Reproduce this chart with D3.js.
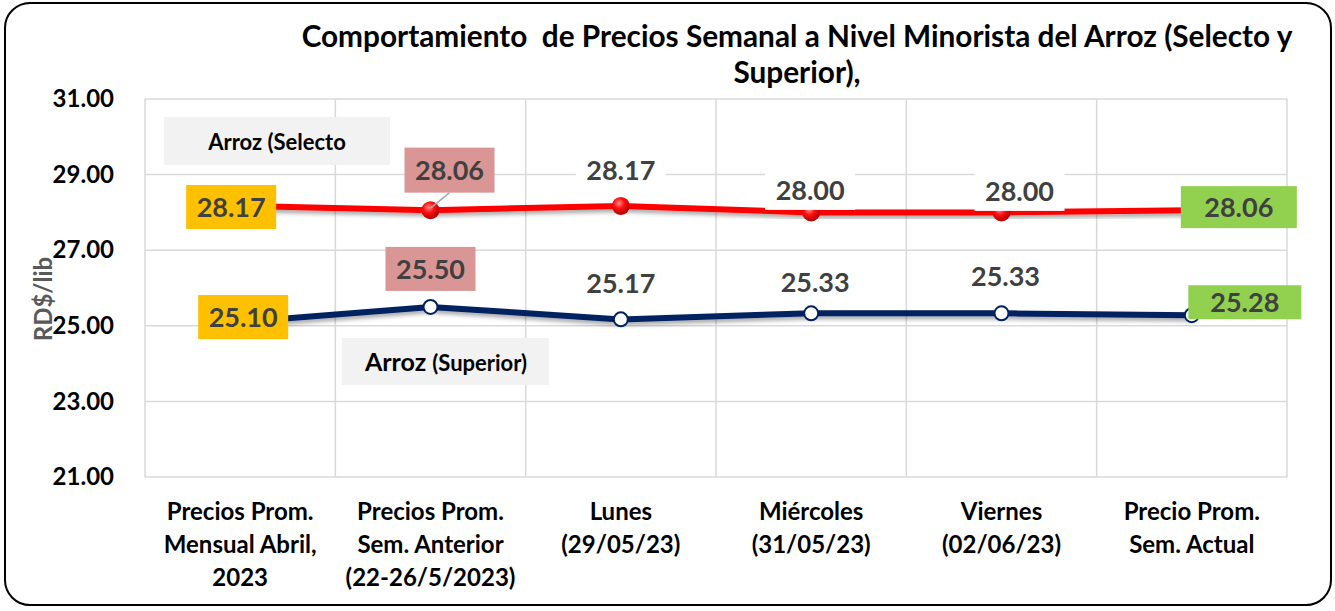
<!DOCTYPE html>
<html>
<head>
<meta charset="utf-8">
<script src="https://cdn.jsdelivr.net/npm/d3@7"></script>
<style>
  body { margin: 0; background: #fff; }
  text { font-family: Lato, "Open Sans", sans-serif; font-weight: 700; }
</style>
</head>
<body>
<div id="chart"></div>
<script>

const categories = [
    ["Precios Prom.", "Mensual Abril,", "2023"],
    ["Precios Prom.", "Sem. Anterior", "(22-26/5/2023)"],
    ["Lunes", "(29/05/23)"],
    ["Miércoles", "(31/05/23)"],
    ["Viernes", "(02/06/23)"],
    ["Precio Prom.", "Sem. Actual"]
];
const selecto = [28.17, 28.06, 28.17, 28.00, 28.00, 28.06];
const superior = [25.10, 25.50, 25.17, 25.33, 25.33, 25.28];
const yTicks = [21, 23, 25, 27, 29, 31];

const width = 1335;
const height = 611;

const svg = d3.select("#chart")
    .append("svg")
    .attr("width", width)
    .attr("height", height);

// drop shadow for lines
const defs = svg.append("defs");
const shadow = defs.append("filter").attr("id", "shadow")
    .attr("x", "-5%").attr("y", "-50%").attr("width", "110%").attr("height", "250%");
shadow.append("feDropShadow")
    .attr("dx", 0).attr("dy", 3).attr("stdDeviation", 2)
    .attr("flood-color", "#000").attr("flood-opacity", 0.35);

const grad = defs.append("radialGradient").attr("id", "redball")
    .attr("cx", "40%").attr("cy", "35%").attr("r", "65%");
grad.append("stop").attr("offset", "0%").attr("stop-color", "#ff8a8a");
grad.append("stop").attr("offset", "45%").attr("stop-color", "#ff1010");
grad.append("stop").attr("offset", "100%").attr("stop-color", "#b00000");

// frame
svg.append("rect")
    .attr("x", 5).attr("y", 3)
    .attr("width", 1326).attr("height", 602)
    .attr("rx", 25)
    .attr("fill", "#fff")
    .attr("stroke", "#000")
    .attr("stroke-width", 2);

const plot = { left: 145, right: 1287, top: 99, bottom: 477 };

const x = d3.scaleBand()
    .domain(d3.range(categories.length))
    .range([plot.left, plot.right]);

const y = d3.scaleLinear()
    .domain([21, 31])
    .range([plot.bottom, plot.top]);

// grid
svg.append("g")
    .selectAll("line.h")
    .data(yTicks)
    .enter()
    .append("line")
    .attr("x1", plot.left).attr("x2", plot.right)
    .attr("y1", d => y(d)).attr("y2", d => y(d))
    .attr("stroke", "#d9d9d9")
    .attr("stroke-width", 1.5);

svg.append("g")
    .selectAll("line.v")
    .data(d3.range(categories.length + 1))
    .enter()
    .append("line")
    .attr("x1", d => plot.left + d * x.bandwidth())
    .attr("x2", d => plot.left + d * x.bandwidth())
    .attr("y1", plot.top).attr("y2", plot.bottom)
    .attr("stroke", "#d9d9d9")
    .attr("stroke-width", 1.5);

// y axis
const yAxis = d3.axisLeft(y)
    .tickValues(yTicks)
    .tickFormat(d3.format(".2f"))
    .tickSize(0)
    .tickPadding(31);

const gy = svg.append("g")
    .attr("transform", "translate(" + plot.left + ",0)")
    .call(yAxis);
gy.select(".domain").remove();
gy.selectAll("text")
    .attr("fill", "#000")
    .style("font-size", "24px")
    .style("font-family", "Lato, sans-serif")
    .style("font-weight", 700);

svg.append("text")
    .attr("transform", "translate(52,299) rotate(-90)")
    .attr("text-anchor", "middle")
    .attr("fill", "#595959")
    .style("font-size", "24px")
    .text("RD$/lib");

// x labels
const xl = svg.append("g")
    .selectAll("text")
    .data(categories)
    .enter()
    .append("text")
    .attr("text-anchor", "middle")
    .attr("x", (d, i) => x(i) + x.bandwidth() / 2)
    .attr("y", 520)
    .style("font-size", "24px")
    .attr("fill", "#000");
xl.selectAll("tspan")
    .data(d => d)
    .enter()
    .append("tspan")
    .attr("x", function () { return this.parentNode.getAttribute("x"); })
    .attr("dy", (d, i) => i === 0 ? 0 : 33)
    .text(d => d);

// title
const title = svg.append("text")
    .attr("text-anchor", "middle")
    .attr("x", 797)
    .attr("y", 47)
    .style("font-size", "25px")
    .style("white-space", "pre")
    .attr("fill", "#000");
title.append("tspan").attr("x", 797).attr("dy", 0)
    .text("Comportamiento  de Precios Semanal a Nivel Minorista del Arroz (Selecto y");
title.append("tspan").attr("x", 797).attr("dy", 36)
    .text("Superior),");
const w1 = title.select("tspan").node().getComputedTextLength();
title.style("font-size", (25 * 991 / w1) + "px");

// legend-like text boxes
svg.append("rect")
    .attr("x", 164).attr("y", 117).attr("width", 226).attr("height", 48)
    .attr("fill", "#f2f2f2");
svg.append("text")
    .attr("x", 277).attr("y", 150)
    .attr("text-anchor", "middle")
    .style("font-size", "22px")
    .text("Arroz (Selecto");

svg.append("rect")
    .attr("x", 342).attr("y", 338).attr("width", 207).attr("height", 47)
    .attr("fill", "#f2f2f2");
const sup = svg.append("text")
    .attr("x", 446).attr("y", 371)
    .attr("text-anchor", "middle")
    .style("font-size", "25px");
sup.append("tspan").text("Arroz ");
sup.append("tspan").style("font-size", "22px").text("(Superior)");

// lines
const line = d3.line()
    .x((d, i) => x(i) + x.bandwidth() / 2)
    .y(d => y(d));

svg.append("path")
    .datum(selecto)
    .attr("d", line)
    .attr("fill", "none")
    .attr("stroke", "#ff0000")
    .attr("stroke-width", 6)
    .attr("filter", "url(#shadow)");

svg.append("path")
    .datum(superior)
    .attr("d", line)
    .attr("fill", "none")
    .attr("stroke", "#002060")
    .attr("stroke-width", 6)
    .attr("filter", "url(#shadow)");

svg.append("g")
    .selectAll("circle")
    .data(selecto)
    .enter()
    .append("circle")
    .attr("cx", (d, i) => x(i) + x.bandwidth() / 2)
    .attr("cy", d => y(d))
    .attr("r", 9)
    .attr("fill", "url(#redball)");

svg.append("g")
    .selectAll("circle")
    .data(superior)
    .enter()
    .append("circle")
    .attr("cx", (d, i) => x(i) + x.bandwidth() / 2)
    .attr("cy", d => y(d))
    .attr("r", 7)
    .attr("fill", "#fff")
    .attr("stroke", "#002060")
    .attr("stroke-width", 2);

// data labels: offset from point, box size and fill
const selectoLabels = [
    { dx: -9, dy: 1, w: 90, h: 44, fill: "#ffc000" },
    { dx: 19, dy: -40, w: 90, h: 45, fill: "#da9694", leader: true },
    { dx: 0, dy: -36, w: 90, h: 38, fill: "#fff" },
    { dx: -1, dy: -22, w: 90, h: 39, fill: "#fff" },
    { dx: 18, dy: -21, w: 90, h: 39, fill: "#fff" },
    { dx: 47, dy: -3, w: 116, h: 42, fill: "#92d050" }
];
const superiorLabels = [
    { dx: 3, dy: -5, w: 90, h: 44, fill: "#ffc000" },
    { dx: 0, dy: -38, w: 90, h: 44, fill: "#da9694" },
    { dx: 0, dy: -36, w: 0, h: 0, fill: "none" },
    { dx: 4, dy: -31, w: 0, h: 0, fill: "none" },
    { dx: 4, dy: -37, w: 0, h: 0, fill: "none" },
    { dx: 53, dy: -13, w: 113, h: 34, fill: "#92d050" }
];

function drawLabels(values, layout) {
    const g = svg.append("g")
        .selectAll("g")
        .data(values)
        .enter()
        .append("g")
        .attr("transform", (d, i) => {
            const cx = x(i) + x.bandwidth() / 2 + layout[i].dx;
            const cy = y(d) + layout[i].dy;
            return "translate(" + cx + "," + cy + ")";
        });

    g.filter((d, i) => layout[i].leader)
        .append("line")
        .attr("x1", -layout[1].dx)
        .attr("y1", -layout[1].dy - 2)
        .attr("x2", 0)
        .attr("y2", layout[1].h / 2)
        .attr("stroke", "#a6a6a6")
        .attr("stroke-width", 1.5);

    g.append("rect")
        .attr("x", (d, i) => -layout[i].w / 2)
        .attr("y", (d, i) => -layout[i].h / 2)
        .attr("width", (d, i) => layout[i].w)
        .attr("height", (d, i) => layout[i].h)
        .attr("fill", (d, i) => layout[i].fill);

    g.append("text")
        .attr("text-anchor", "middle")
        .attr("dy", "0.36em")
        .attr("fill", "#404040")
        .style("font-size", "27px")
        .text(d => d3.format(".2f")(d));
}

drawLabels(selecto, selectoLabels);
drawLabels(superior, superiorLabels);

</script>
</body>
</html>
